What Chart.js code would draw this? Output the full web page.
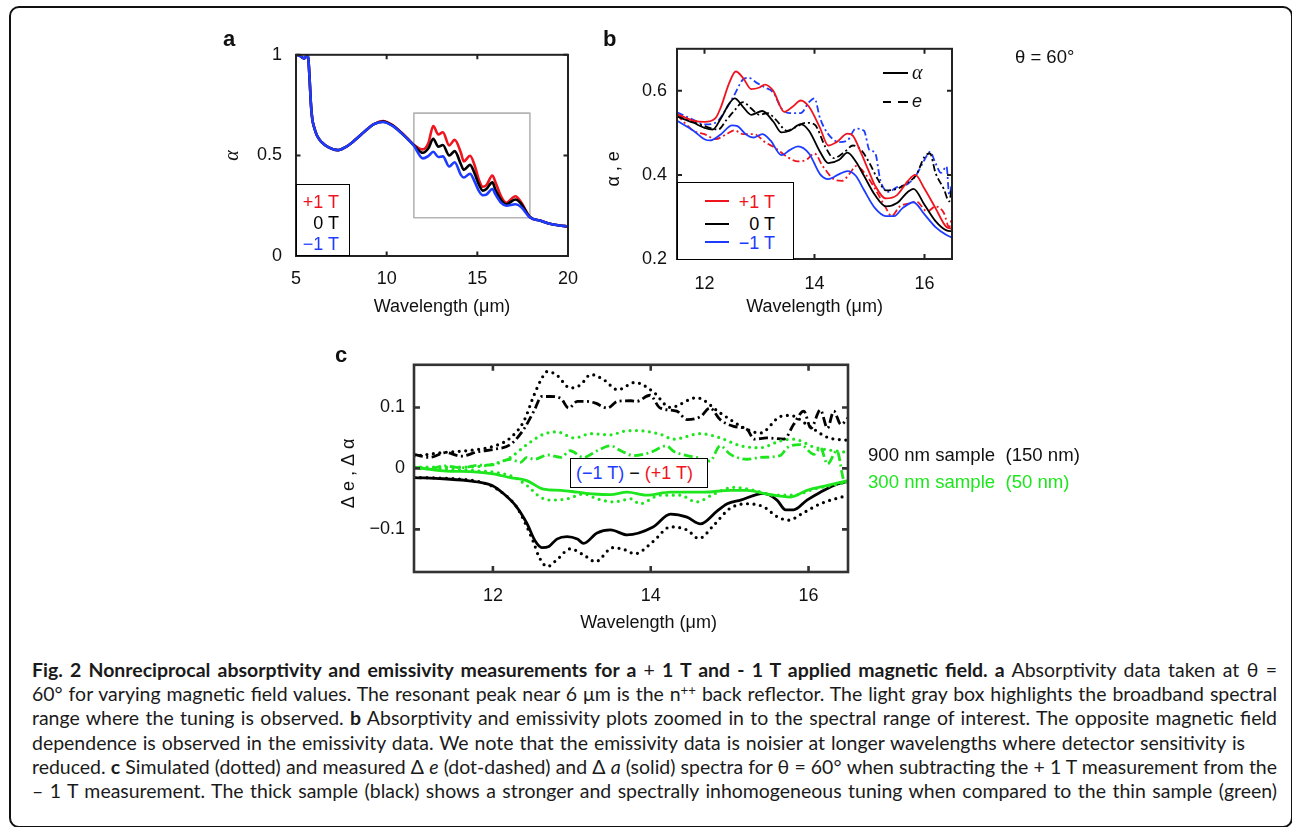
<!DOCTYPE html>
<html>
<head>
<meta charset="utf-8">
<script src="https://cdn.jsdelivr.net/npm/chart.js@4.4.0/dist/chart.umd.min.js"></script>
<style>
html,body{margin:0;padding:0;background:#fff;}
body{width:1292px;height:827px;position:relative;overflow:hidden;font-family:"Liberation Sans",Arial,Helvetica,sans-serif;color:#111;}
canvas{position:absolute;}
.t{position:absolute;white-space:pre;font-size:18px;line-height:18px;}
.lab{position:absolute;font-weight:bold;font-size:22px;line-height:22px;}
#frame{position:absolute;left:9px;top:6px;width:1284px;height:822px;border:2.5px solid #111;border-radius:10px;box-sizing:border-box;}
.box{position:absolute;border:1.3px solid #000;background:#fff;box-sizing:border-box;}
.seg{position:absolute;height:2px;}
.cap{position:absolute;left:32px;font-family:Lato,"Open Sans",sans-serif;font-size:16px;line-height:24.2px;height:24.2px;text-align:justify;text-align-last:justify;color:#1a1a1a;}
.cap b{font-weight:bold;}
.cap sup{font-size:0.68em;line-height:0;vertical-align:0.42em;}
</style>
</head>
<body>
<div id="frame"></div>

<canvas id="ca" width="390" height="300" style="left:200px;top:30px;"></canvas>
<canvas id="cb" width="400" height="302" style="left:590px;top:28px;"></canvas>
<canvas id="cc" width="560" height="290" style="left:320px;top:345px;"></canvas>

<div class="lab" style="left:223px;top:28px;">a</div>
<div class="lab" style="left:603px;top:28px;">b</div>
<div class="lab" style="left:335px;top:344px;">c</div>

<!-- panel a legend -->
<div class="box" style="left:296px;top:184px;width:54px;height:72px;">
  <div class="t" style="right:10px;top:8px;color:#f0141e;">+1 T</div>
  <div class="t" style="right:10px;top:29px;color:#000;">0 T</div>
  <div class="t" style="right:10px;top:50px;color:#1e3cff;">−1 T</div>
</div>

<!-- panel b legends -->
<div class="box" style="left:677px;top:182px;width:117px;height:78px;">
  <div class="seg" style="left:27px;top:17px;width:24px;background:#f0141e;"></div>
  <div class="seg" style="left:27px;top:40px;width:24px;background:#000;"></div>
  <div class="seg" style="left:27px;top:58px;width:24px;background:#1e3cff;"></div>
  <div class="t" style="right:18px;top:10px;color:#f0141e;">+1 T</div>
  <div class="t" style="right:18px;top:32px;color:#000;">0 T</div>
  <div class="t" style="right:18px;top:51px;color:#1e3cff;">−1 T</div>
</div>
<div class="seg" style="left:883px;top:72px;width:25px;background:#000;height:1.8px;"></div>
<div class="t" style="left:912px;top:62px;font-family:'Liberation Serif',serif;font-style:italic;font-size:20px;line-height:20px;">α</div>
<div class="seg" style="left:883px;top:101px;width:8px;background:#000;height:1.8px;"></div>
<div class="seg" style="left:898px;top:101px;width:10px;background:#000;height:1.8px;"></div>
<div class="t" style="left:912px;top:92px;font-style:italic;">e</div>

<div class="t" style="left:1015px;top:48px;font-size:18.5px;">θ = 60°</div>

<!-- panel c annotations -->
<div class="box" style="left:570px;top:458px;width:138px;height:30px;">
  <div class="t" style="left:5px;top:5px;"><span style="color:#1e3cff">(−1 T)</span> − <span style="color:#f0141e">(+1 T)</span></div>
</div>
<div class="t" style="left:868px;top:446px;color:#111;font-size:18.6px;">900 nm sample  (150 nm)</div>
<div class="t" style="left:868px;top:473px;color:#1ee61e;font-size:18.6px;">300 nm sample  (50 nm)</div>

<!-- caption -->
<div class="cap" data-w="1245" style="top:658px;width:1245px;"><b>Fig. 2 Nonreciprocal absorptivity and emissivity measurements for a </b>+<b> 1 T and - 1 T applied magnetic field. a</b> Absorptivity data taken at θ =</div>
<div class="cap" data-w="1245" style="top:682.2px;width:1245px;">60° for varying magnetic field values. The resonant peak near 6 μm is the n<sup>++</sup> back reflector. The light gray box highlights the broadband spectral</div>
<div class="cap" data-w="1245" style="top:706.4px;width:1245px;">range where the tuning is observed. <b>b</b> Absorptivity and emissivity plots zoomed in to the spectral range of interest. The opposite magnetic field</div>
<div class="cap" data-w="1213" style="top:730.6px;width:1213px;">dependence is observed in the emissivity data. We note that the emissivity data is noisier at longer wavelengths where detector sensitivity is</div>
<div class="cap" data-w="1245" style="top:754.8px;width:1245px;">reduced. <b>c</b> Simulated (dotted) and measured Δ <i>e</i> (dot-dashed) and Δ <i>a</i> (solid) spectra for θ = 60° when subtracting the + 1 T measurement from the</div>
<div class="cap" data-w="1245" style="top:779px;width:1245px;">– 1 T measurement. The thick sample (black) shows a stronger and spectrally inhomogeneous tuning when compared to the thin sample (green)</div>

<script>
// ---------------- DATA ----------------
// Panel a: absorptivity vs wavelength (µm)
const WL_A = [5.0,5.2,5.45,5.62,5.68,5.75,5.82,5.9,6.0,6.15,6.4,6.8,7.3,7.8,8.3,8.8,9.3,9.8,10.3,10.8,11.2,11.5,12.0,12.3,12.57,12.85,13.1,13.45,13.75,14.1,14.25,14.6,14.85,15.1,15.3,15.5,15.83,16.0,16.3,16.6,17.1,17.4,17.9,18.5,19.0,19.5,20.0];
const A_P1T = [1.0,0.995,0.982,0.995,0.98,0.88,0.76,0.68,0.64,0.60,0.567,0.54,0.526,0.545,0.58,0.62,0.655,0.671,0.652,0.615,0.58,0.553,0.53,0.562,0.646,0.604,0.615,0.55,0.577,0.512,0.47,0.498,0.451,0.375,0.344,0.352,0.4,0.367,0.298,0.265,0.297,0.27,0.194,0.175,0.16,0.152,0.147];
const A_0T  = [1.0,0.995,0.982,0.995,0.98,0.88,0.76,0.68,0.64,0.60,0.567,0.54,0.526,0.545,0.58,0.62,0.655,0.668,0.65,0.613,0.578,0.551,0.513,0.535,0.582,0.543,0.552,0.50,0.521,0.455,0.428,0.453,0.41,0.352,0.325,0.333,0.366,0.329,0.28,0.257,0.281,0.262,0.194,0.175,0.16,0.152,0.147];
const A_M1T = [1.0,0.995,0.982,0.995,0.98,0.88,0.76,0.68,0.64,0.60,0.567,0.54,0.526,0.545,0.58,0.62,0.655,0.666,0.648,0.612,0.577,0.548,0.485,0.497,0.518,0.492,0.495,0.445,0.466,0.402,0.39,0.409,0.37,0.321,0.302,0.305,0.333,0.306,0.265,0.25,0.257,0.245,0.192,0.175,0.16,0.152,0.147];
const BOX_A_X = [11.5,17.9,17.9,11.5,11.5];
const BOX_A_Y = [0.19,0.19,0.71,0.71,0.19];
const A_X_TICKS = [5,10,15,20], A_X_LABELS = ['5','10','15','20'];
const A_Y_TICKS = [0,0.5,1], A_Y_LABELS = ['0','0.5','1'];

// Panel b: absorptivity (solid) and emissivity (dashed)
const B_ALPHA_P1T_X = [11.5,11.8,12.0,12.2,12.3,12.45,12.57,12.7,12.85,13.0,13.1,13.25,13.45,13.6,13.75,13.9,14.1,14.25,14.4,14.6,14.7,14.85,15.0,15.1,15.3,15.5,15.7,15.83,16.0,16.2,16.4,16.5];
const B_ALPHA_P1T   = [0.545,0.529,0.526,0.535,0.562,0.619,0.646,0.631,0.604,0.608,0.615,0.6,0.55,0.562,0.577,0.562,0.512,0.47,0.478,0.498,0.493,0.451,0.405,0.375,0.344,0.352,0.386,0.4,0.367,0.321,0.276,0.272];
const B_ALPHA_0T_X  = [11.5,11.8,12.0,12.15,12.3,12.45,12.55,12.7,12.85,13.05,13.25,13.4,13.55,13.75,13.9,14.1,14.25,14.45,14.6,14.75,14.9,15.1,15.3,15.5,15.7,15.8,16.0,16.2,16.4,16.5];
const B_ALPHA_0T    = [0.539,0.524,0.512,0.508,0.535,0.57,0.582,0.562,0.543,0.552,0.527,0.501,0.505,0.521,0.505,0.455,0.428,0.436,0.453,0.432,0.398,0.352,0.325,0.333,0.36,0.367,0.329,0.29,0.268,0.266];
const B_ALPHA_M1T_X = [11.5,11.8,12.0,12.1,12.3,12.5,12.6,12.75,12.9,13.05,13.2,13.4,13.55,13.7,13.9,14.1,14.25,14.45,14.6,14.75,14.9,15.1,15.3,15.45,15.6,15.8,16.0,16.2,16.4,16.5];
const B_ALPHA_M1T   = [0.529,0.505,0.485,0.482,0.497,0.518,0.516,0.497,0.489,0.497,0.482,0.447,0.459,0.468,0.451,0.402,0.39,0.402,0.409,0.398,0.364,0.321,0.302,0.302,0.321,0.335,0.306,0.276,0.257,0.251];
const B_E_M1T_X = [11.5,11.8,12.0,12.2,12.4,12.55,12.7,12.8,12.95,13.1,13.25,13.4,13.55,13.75,13.9,14.0,14.1,14.25,14.45,14.6,14.75,14.9,15.0,15.1,15.2,15.35,15.5,15.7,15.85,16.0,16.1,16.2,16.3,16.4,16.45,16.5];
const B_E_M1T   = [0.549,0.531,0.52,0.524,0.558,0.592,0.627,0.631,0.619,0.608,0.596,0.558,0.547,0.547,0.573,0.582,0.535,0.497,0.478,0.482,0.51,0.505,0.459,0.453,0.386,0.36,0.371,0.379,0.4,0.436,0.455,0.428,0.405,0.42,0.352,0.382];
const B_E_0T_X  = [11.5,11.8,12.0,12.25,12.4,12.55,12.7,12.85,13.0,13.15,13.3,13.5,13.65,13.85,14.0,14.2,14.35,14.55,14.7,14.85,15.0,15.15,15.3,15.5,15.7,15.85,16.0,16.1,16.2,16.35,16.45,16.5];
const B_E_0T    = [0.543,0.526,0.516,0.508,0.531,0.554,0.573,0.558,0.543,0.547,0.531,0.505,0.513,0.524,0.52,0.466,0.44,0.455,0.47,0.459,0.428,0.39,0.363,0.367,0.382,0.4,0.443,0.451,0.405,0.367,0.337,0.375];
const B_E_P1T_X = [11.5,11.8,12.0,12.2,12.4,12.55,12.7,12.9,13.1,13.3,13.5,13.7,13.85,14.0,14.15,14.35,14.5,14.65,14.75,14.95,15.1,15.3,15.4,15.55,15.75,15.85,16.05,16.2,16.35,16.45,16.5];
const B_E_P1T   = [0.543,0.505,0.497,0.485,0.497,0.506,0.497,0.497,0.478,0.463,0.443,0.432,0.436,0.451,0.421,0.39,0.386,0.405,0.421,0.398,0.367,0.321,0.302,0.325,0.333,0.337,0.313,0.325,0.31,0.276,0.302];
const B_X_TICKS = [12,14,16], B_X_LABELS = ['12','14','16'];
const B_Y_TICKS = [0.2,0.4,0.6], B_Y_LABELS = ['0.2','0.4','0.6'];

// Panel c: (−1 T) − (+1 T) differences
const C_SIM900_UP_X = [11.0,11.37,11.8,12.05,12.22,12.39,12.52,12.62,12.69,12.81,12.98,13.11,13.24,13.41,13.58,13.8,14.03,14.25,14.58,14.88,15.22,15.39,15.64,15.77,15.98,16.24,16.5];
const C_SIM900_UP   = [0.02,0.026,0.031,0.038,0.05,0.077,0.12,0.148,0.159,0.153,0.132,0.137,0.154,0.145,0.129,0.141,0.126,0.1,0.116,0.091,0.064,0.058,0.085,0.087,0.072,0.051,0.046];
const C_SIM900_DN_X = [11.0,11.37,11.8,11.97,12.14,12.3,12.41,12.52,12.58,12.69,12.81,12.98,13.15,13.3,13.52,13.66,13.8,14.03,14.25,14.46,14.61,14.8,15.0,15.22,15.43,15.6,15.75,15.92,16.15,16.5];
const C_SIM900_DN   = [-0.015,-0.016,-0.021,-0.028,-0.042,-0.063,-0.09,-0.123,-0.144,-0.161,-0.15,-0.132,-0.142,-0.153,-0.13,-0.133,-0.14,-0.12,-0.096,-0.101,-0.115,-0.093,-0.066,-0.058,-0.063,-0.079,-0.085,-0.074,-0.058,-0.044];
const C_DA900_X = [11.0,11.37,11.67,11.84,11.99,12.14,12.3,12.43,12.54,12.62,12.71,12.81,12.94,13.07,13.15,13.32,13.49,13.7,14.03,14.25,14.46,14.63,14.84,14.97,15.14,15.43,15.6,15.71,15.81,15.98,16.15,16.32,16.5];
const C_DA900   = [-0.015,-0.017,-0.02,-0.023,-0.028,-0.042,-0.063,-0.09,-0.12,-0.13,-0.128,-0.116,-0.112,-0.116,-0.123,-0.106,-0.101,-0.109,-0.096,-0.075,-0.08,-0.091,-0.07,-0.058,-0.052,-0.041,-0.052,-0.068,-0.068,-0.052,-0.039,-0.028,-0.021];
const C_DE900_X = [11.0,11.2,11.4,11.6,11.8,12.0,12.22,12.39,12.52,12.62,12.73,12.86,12.96,13.07,13.19,13.3,13.45,13.58,13.75,13.82,13.99,14.12,14.33,14.46,14.63,14.75,14.88,15.05,15.22,15.31,15.47,15.69,15.81,15.94,16.03,16.15,16.24,16.32,16.41,16.5];
const C_DE900   = [0.023,0.018,0.026,0.02,0.027,0.031,0.039,0.064,0.094,0.118,0.118,0.115,0.099,0.11,0.11,0.107,0.099,0.11,0.111,0.11,0.12,0.099,0.094,0.08,0.085,0.099,0.08,0.069,0.064,0.048,0.05,0.048,0.072,0.094,0.066,0.096,0.066,0.094,0.072,0.083];
const C_SIM300_UP_X = [11.0,11.6,12.0,12.22,12.43,12.64,12.81,13.03,13.24,13.49,13.66,13.82,14.12,14.29,14.63,14.88,15.14,15.39,15.64,15.81,16.07,16.5];
const C_SIM300_UP   = [0.002,0.002,0.007,0.018,0.039,0.056,0.06,0.05,0.057,0.055,0.061,0.062,0.056,0.048,0.057,0.05,0.037,0.034,0.045,0.048,0.035,0.026];
const C_SIM300_DN_X = [11.0,11.8,12.22,12.43,12.6,12.73,12.94,13.15,13.32,13.53,13.75,13.86,14.12,14.37,14.58,14.8,15.05,15.31,15.56,15.81,16.07,16.5];
const C_SIM300_DN   = [0.0,-0.004,-0.012,-0.028,-0.047,-0.052,-0.05,-0.042,-0.05,-0.055,-0.05,-0.058,-0.044,-0.044,-0.055,-0.042,-0.031,-0.036,-0.044,-0.044,-0.034,-0.023];
const C_DA300_X = [11.0,11.37,11.8,12.0,12.22,12.43,12.64,12.86,13.07,13.28,13.49,13.7,13.95,14.25,14.67,15.01,15.22,15.47,15.77,15.98,16.24,16.5];
const C_DA300   = [0.002,-0.004,-0.006,-0.009,-0.015,-0.02,-0.034,-0.036,-0.039,-0.042,-0.043,-0.039,-0.044,-0.039,-0.039,-0.036,-0.036,-0.042,-0.047,-0.036,-0.028,-0.02];
const C_DE300_X = [11.0,11.2,11.4,11.6,11.8,12.0,12.22,12.35,12.43,12.52,12.7,12.86,12.98,13.15,13.32,13.49,13.62,13.78,13.99,14.2,14.29,14.46,14.58,14.75,14.88,15.01,15.22,15.39,15.64,15.73,15.9,16.07,16.15,16.24,16.36,16.45,16.5];
const C_DE300   = [0.002,0.0,0.004,0.001,0.005,0.006,0.015,0.01,0.018,0.015,0.022,0.018,0.029,0.018,0.029,0.037,0.029,0.021,0.026,0.037,0.028,0.021,0.018,0.012,0.037,0.023,0.015,0.018,0.021,0.034,0.039,0.023,0.034,0.007,0.029,-0.02,-0.023];
const C_X_TICKS = [12,14,16], C_X_LABELS = ['12','14','16'];
const C_Y_TICKS = [-0.1,0,0.1], C_Y_LABELS = ['−0.1','0','0.1'];

// ---------------- CAPTION FIT (uniform font size so the unjustified line keeps its width) ----------------
(function fitCaption() {
  const els = Array.from(document.querySelectorAll('.cap'));
  const targets = els.map(e => parseFloat(e.dataset.w));
  const base = 20;
  els.forEach(e => { e.style.whiteSpace = 'nowrap'; e.style.width = 'auto'; e.style.fontSize = base + 'px'; });
  const ratios = els.map((e, i) => targets[i] / e.getBoundingClientRect().width);
  const size = base * Math.min.apply(null, ratios) * 0.997;
  els.forEach((e, i) => { e.style.fontSize = size.toFixed(2) + 'px'; e.style.whiteSpace = 'normal'; e.style.width = targets[i] + 'px'; });
})();

// ---------------- STYLE / HELPERS ----------------
const FONT = '"Liberation Sans", Arial, Helvetica, sans-serif';
const RED = '#f0141e', BLUE = '#1e3cff', GREEN = '#1ee61e', BLACK = '#000000', GRAY = '#b4b4b4';

const pts = (xs, ys) => xs.map((x, i) => ({x: x, y: ys[i]}));
function line(label, xs, ys, color, width, dash, cap, mono) {
  return {
    label: label, data: pts(xs, ys), borderColor: color, backgroundColor: color,
    borderWidth: width, borderDash: dash || [], borderCapStyle: cap || 'butt', borderJoinStyle: 'round',
    pointRadius: 0, pointHoverRadius: 0, fill: false,
    cubicInterpolationMode: mono === false ? 'default' : 'monotone', tension: mono === false ? 0 : 0.4
  };
}

const frame = {
  id: 'frame',
  afterDatasetsDraw(chart, args, o) {
    const {ctx, chartArea: {left, right, top, bottom}, scales: {x, y}} = chart;
    ctx.save();
    ctx.strokeStyle = o.color; ctx.lineWidth = o.width; ctx.lineCap = 'butt';
    ctx.beginPath();
    x.ticks.forEach(t => { const p = x.getPixelForValue(t.value);
      ctx.moveTo(p, bottom); ctx.lineTo(p, bottom - o.len); ctx.moveTo(p, top); ctx.lineTo(p, top + o.len); });
    y.ticks.forEach(t => { const p = y.getPixelForValue(t.value);
      ctx.moveTo(left, p); ctx.lineTo(left + o.len, p); ctx.moveTo(right, p); ctx.lineTo(right - o.len, p); });
    ctx.stroke();
    ctx.strokeRect(left, top, right - left, bottom - top);
    ctx.restore();
  }
};

function xAxis(min, max, ticks, labels, height, pad, title, titlePad) {
  return {
    type: 'linear', position: 'bottom', min: min, max: max,
    afterBuildTicks: s => { s.ticks = ticks.map(v => ({value: v})); },
    afterFit: s => { s.height = height; },
    grid: {display: false, drawTicks: false}, border: {display: false},
    ticks: {padding: pad, color: '#111', font: {family: FONT, size: 18}, maxRotation: 0, autoSkip: false,
            callback: (v, i) => labels[i]},
    title: {display: true, text: title, color: '#111', font: {family: FONT, size: 18}, padding: {top: 0, bottom: titlePad}}
  };
}
function yAxis(min, max, ticks, labels, width, pad, title, titlePad, titleFont) {
  return {
    type: 'linear', position: 'left', min: min, max: max,
    afterBuildTicks: s => { s.ticks = ticks.map(v => ({value: v})); },
    afterFit: s => { s.width = width; },
    grid: {display: false, drawTicks: false}, border: {display: false},
    ticks: {padding: pad, color: '#111', font: {family: FONT, size: 18}, autoSkip: false,
            callback: (v, i) => labels[i]},
    title: {display: true, text: title, color: '#111', font: titleFont || {family: FONT, size: 18}, padding: {top: titlePad, bottom: 0}}
  };
}
function baseOptions(pad, scales, frameOpt) {
  return {
    responsive: false, animation: false, devicePixelRatio: 1,
    layout: {padding: pad, autoPadding: false},
    plugins: {legend: {display: false}, tooltip: {enabled: false}, frame: frameOpt},
    events: [],
    scales: scales
  };
}

// ---------------- PANEL a ----------------
new Chart(document.getElementById('ca'), {
  type: 'line',
  data: {datasets: [
    line('−1 T', WL_A, A_M1T, BLUE, 2.6),
    line('0 T', WL_A, A_0T, BLACK, 2.6),
    line('+1 T', WL_A, A_P1T, RED, 2.6),
    line('highlight box', BOX_A_X, BOX_A_Y, GRAY, 1.6, [], 'butt', false)
  ]},
  options: baseOptions({top: 15, right: 21, bottom: 0, left: 0}, {
    x: xAxis(5, 20, A_X_TICKS, A_X_LABELS, 74, 12, '\u00a0\u00a0\u00a0\u00a0Wavelength (μm)', 12),
    y: yAxis(0, 1, A_Y_TICKS, A_Y_LABELS, 96, 14, 'α', 21, {family: '"Liberation Serif", serif', size: 20, style: 'italic'})
  }, {color: '#222', width: 2, len: 4.5}),
  plugins: [frame]
});

// ---------------- PANEL b ----------------
new Chart(document.getElementById('cb'), {
  type: 'line',
  data: {datasets: [
    line('α +1 T', B_ALPHA_P1T_X, B_ALPHA_P1T, RED, 1.8),
    line('α 0 T', B_ALPHA_0T_X, B_ALPHA_0T, BLACK, 1.8),
    line('α −1 T', B_ALPHA_M1T_X, B_ALPHA_M1T, BLUE, 1.8),
    line('e +1 T', B_E_P1T_X, B_E_P1T, RED, 1.8, [7, 3, 2, 3]),
    line('e 0 T', B_E_0T_X, B_E_0T, BLACK, 1.8, [7, 3, 2, 3]),
    line('e −1 T', B_E_M1T_X, B_E_M1T, BLUE, 1.8, [7, 3, 2, 3])
  ]},
  options: baseOptions({top: 15, right: 38, bottom: 0, left: 0}, {
    x: xAxis(11.5, 16.5, B_X_TICKS, B_X_LABELS, 71, 14, 'Wavelength (μm)', 12),
    y: yAxis(0.2, 0.7, B_Y_TICKS, B_Y_LABELS, 87, 10, 'α , e\u00a0\u00a0\u00a0\u00a0\u00a0\u00a0', 13)
  }, {color: '#222', width: 2, len: 5}),
  plugins: [frame]
});

// ---------------- PANEL c ----------------
const DOT = [0, 6.5], DASHDOT = [9, 3.5, 2, 3.5];
new Chart(document.getElementById('cc'), {
  type: 'line',
  data: {datasets: [
    line('300 nm Δα measured', C_DA300_X, C_DA300, GREEN, 2.8),
    line('300 nm Δe measured', C_DE300_X, C_DE300, GREEN, 2.8, DASHDOT),
    line('300 nm simulated +', C_SIM300_UP_X, C_SIM300_UP, GREEN, 3.2, DOT, 'round'),
    line('300 nm simulated −', C_SIM300_DN_X, C_SIM300_DN, GREEN, 3.2, DOT, 'round'),
    line('900 nm Δα measured', C_DA900_X, C_DA900, BLACK, 2.8),
    line('900 nm Δe measured', C_DE900_X, C_DE900, BLACK, 2.8, DASHDOT),
    line('900 nm simulated +', C_SIM900_UP_X, C_SIM900_UP, BLACK, 3.2, DOT, 'round'),
    line('900 nm simulated −', C_SIM900_DN_X, C_SIM900_DN, BLACK, 3.2, DOT, 'round')
  ]},
  options: baseOptions({top: 16, right: 32, bottom: 0, left: 0}, {
    x: xAxis(11, 16.5, C_X_TICKS, C_X_LABELS, 63, 13, '\u00a0\u00a0\u00a0\u00a0\u00a0\u00a0\u00a0Wavelength (μm)', 1),
    y: yAxis(-0.17, 0.17, C_Y_TICKS, C_Y_LABELS, 94, 9, 'Δ e , Δ α\u00a0\u00a0', 18)
  }, {color: '#333', width: 2.6, len: 6}),
  plugins: [frame]
});
</script>
</body>
</html>
